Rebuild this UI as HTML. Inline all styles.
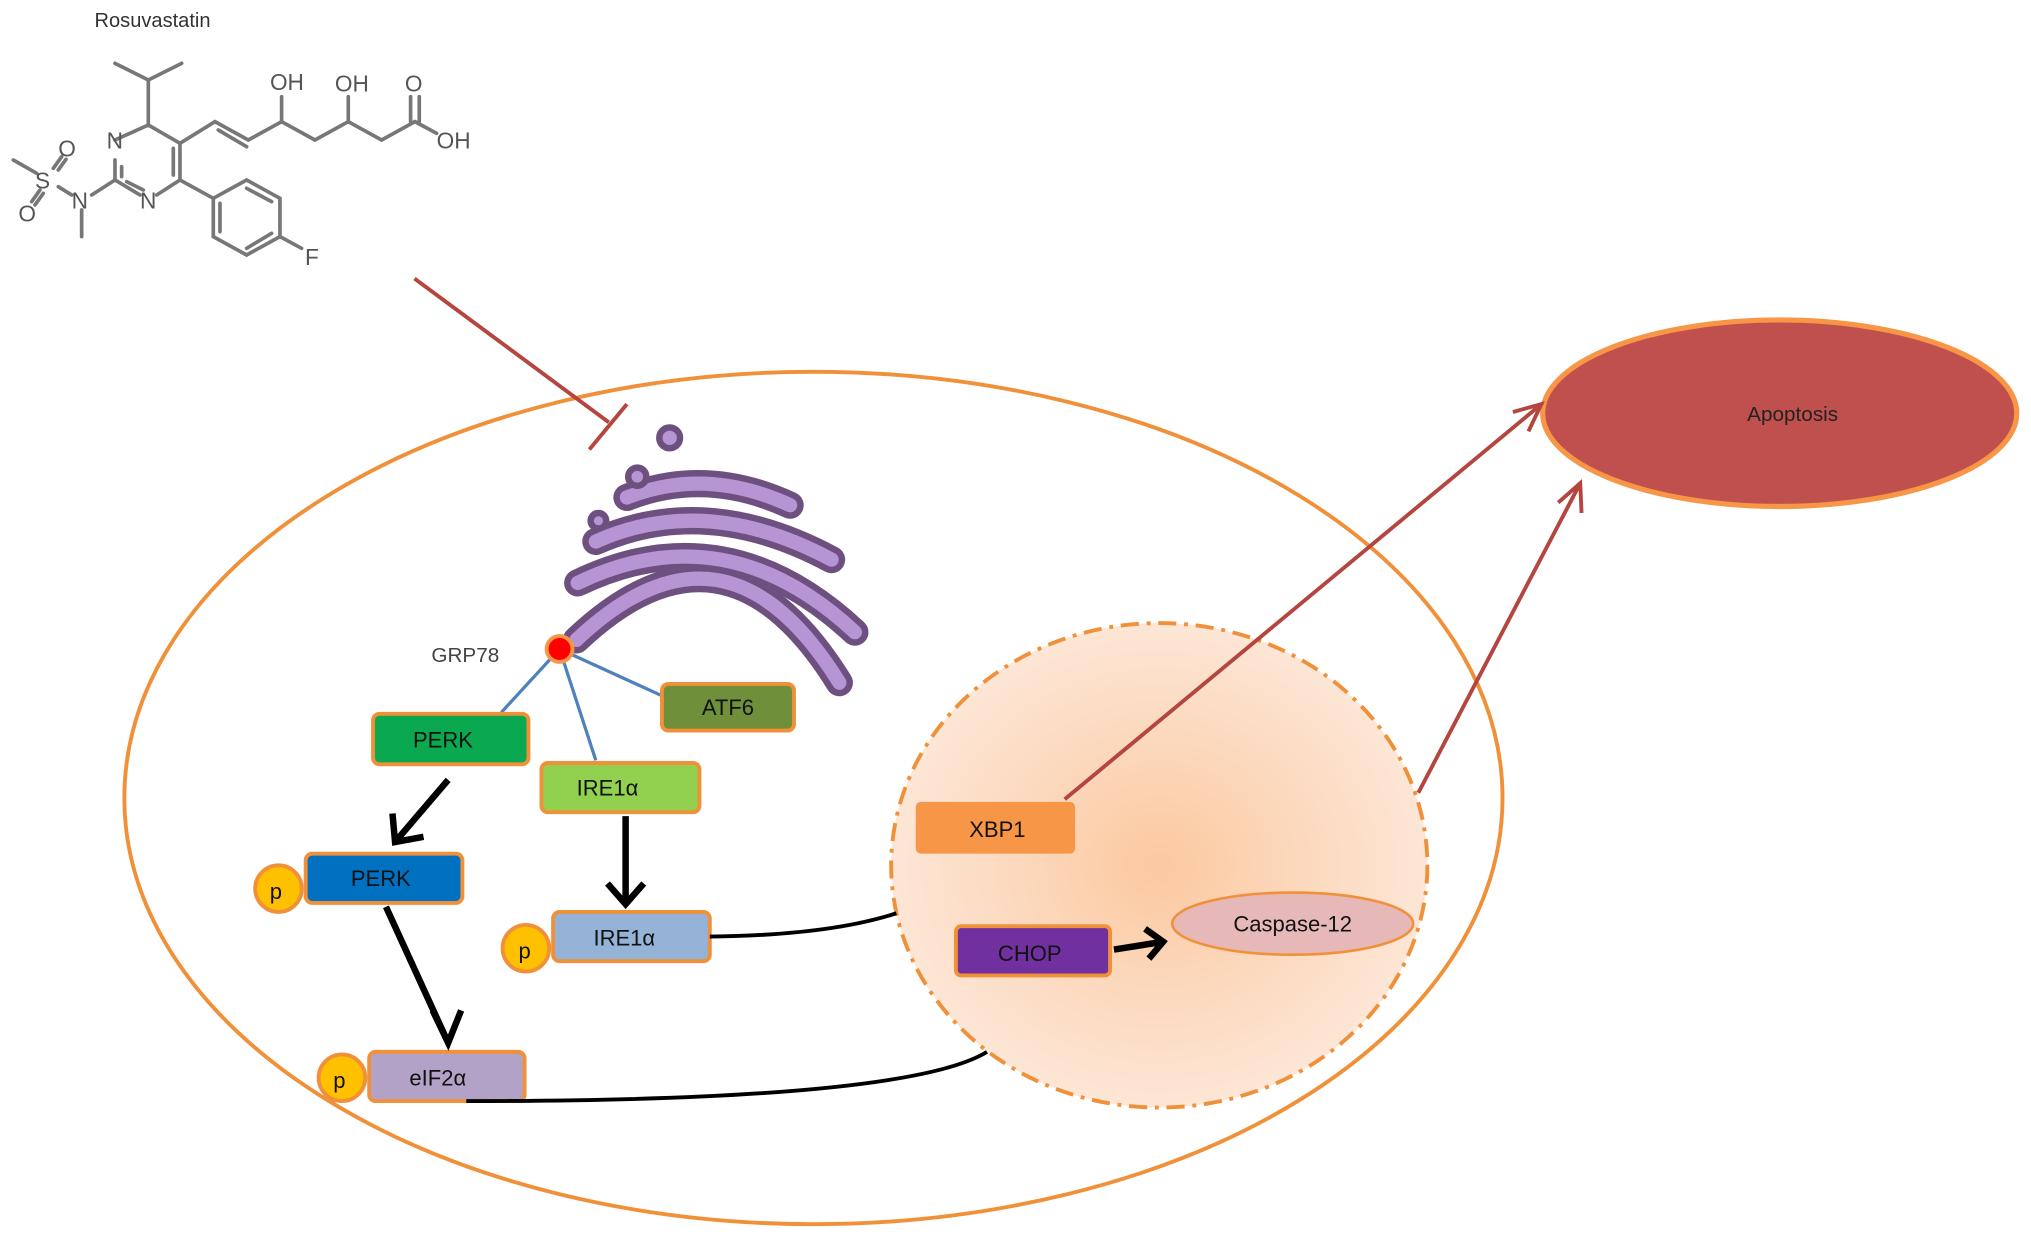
<!DOCTYPE html>
<html><head><meta charset="utf-8"><style>html,body{margin:0;padding:0;background:#fff}svg{display:block}</style></head>
<body>
<svg width="2031" height="1241" viewBox="0 0 1568 958" preserveAspectRatio="none" xmlns="http://www.w3.org/2000/svg" font-family="Liberation Sans, sans-serif">
<defs>
<radialGradient id="ng" cx="0.5" cy="0.5" r="0.5">
<stop offset="0" stop-color="#fbc9a0"/><stop offset="1" stop-color="#fde6d6"/>
</radialGradient>
</defs>
<text x="73" y="21" font-size="15.5" fill="#333">Rosuvastatin</text>
<g transform="scale(0.2573)" stroke="#777" stroke-width="11" fill="none" stroke-linecap="round">
<path d="M445,375 L540,430 L540,540 L470,585 M420,585 L345,540 L345,480 M345,420 L445,375"/>
<path d="M520,445 L520,525 M365,500 L365,530 M430,570 L380,545"/>
<path d="M445,375 L445,240 L345,190 M445,240 L545,190"/>
<path d="M540,430 L645,365 L745,420 L845,365 L945,420 L1045,365 L1145,420 L1245,365 M655,390 L740,440"/>
<path d="M845,365 L845,290 M1045,365 L1045,290 M1232,365 L1232,290 M1258,365 L1258,290 M1245,365 L1310,400"/>
<path d="M540,540 L640,595 M640,595 L740,540 L840,595 L840,710 L740,765 L640,710 L640,595 M660,610 L660,695 M740,565 L815,605 M740,745 L815,700 M840,710 L905,745"/>
<path d="M345,540 L275,585 M245,630 L245,710 M215,585 L175,560 M110,520 L40,480 M160,505 L185,470 M175,510 L198,478 M120,570 L95,605 M130,580 L105,615"/>
</g>
<g transform="scale(0.2573)" fill="#555" font-size="68" stroke="none">
<text x="320" y="445">N</text><text x="420" y="625">N</text><text x="215" y="625">N</text><text x="105" y="565">S</text>
<text x="175" y="470">O</text><text x="55" y="665">O</text><text x="810" y="270">OH</text><text x="1005" y="275">OH</text>
<text x="1215" y="275">O</text><text x="1310" y="445">OH</text><text x="915" y="795">F</text>
</g>
<ellipse cx="628" cy="616" rx="532" ry="329" fill="none" stroke="#f0913a" stroke-width="3"/>
<ellipse cx="895" cy="668" rx="207" ry="187" fill="url(#ng)" stroke="#f0913a" stroke-width="3" stroke-dasharray="14,6,3,6"/>
<ellipse cx="1374" cy="319" rx="183" ry="72" fill="#c0504d" stroke="#f79646" stroke-width="4"/>
<text x="1384" y="325" font-size="16" text-anchor="middle" fill="#222">Apoptosis</text>
<path d="M320,215 L470,326 M455,347 L484,312" stroke="#b5453f" stroke-width="3" fill="none"/>
<g fill="none" stroke-linecap="round">
<g stroke="#6e5080" stroke-width="21">
<path d="M484,384 Q545,360 610,390"/>
<path d="M460,418 Q545,380 642,432"/>
<path d="M446,450 Q560,395 660,488"/>
<path d="M445,494 Q560,385 648,527"/>
</g>
<g stroke="#b795d4" stroke-width="11">
<path d="M484,384 Q545,360 610,390"/>
<path d="M460,418 Q545,380 642,432"/>
<path d="M446,450 Q560,395 660,488"/>
<path d="M445,494 Q560,385 648,527"/>
</g>
</g>
<circle cx="517" cy="338" r="8" fill="#b795d4" stroke="#6e5080" stroke-width="5"/>
<circle cx="492" cy="368" r="7" fill="#b795d4" stroke="#6e5080" stroke-width="5"/>
<circle cx="462" cy="402" r="6" fill="#b795d4" stroke="#6e5080" stroke-width="5"/>
<path d="M432,501 L387,550 M432,501 L460,587 M432,501 L513,538" stroke="#4f81bd" stroke-width="2.5"/>
<circle cx="432" cy="501" r="10" fill="#f00" stroke="#f79646" stroke-width="3"/>
<text x="333" y="511" font-size="16" fill="#444">GRP78</text>
<g stroke="#f0913a" stroke-width="3" font-size="16" text-anchor="middle">
<rect x="288" y="551" width="120" height="39" rx="5" fill="#0aa84f"/>
<rect x="511" y="528" width="102" height="36" rx="5" fill="#6f8f3a"/>
<rect x="418" y="589" width="122" height="38" rx="5" fill="#92d050"/>
<circle cx="215" cy="686" r="18" fill="#ffc000"/>
<rect x="236" y="659" width="121" height="38" rx="5" fill="#0070c0"/>
<circle cx="406" cy="732" r="18" fill="#ffc000"/>
<rect x="427" y="704" width="121" height="38" rx="5" fill="#95b3d7"/>
<circle cx="264" cy="832" r="18" fill="#ffc000"/>
<rect x="285" y="812" width="120" height="38" rx="5" fill="#b3a2c7"/>
<rect x="738" y="715" width="119" height="38" rx="4" fill="#7030a0"/>
<ellipse cx="998" cy="713" rx="93" ry="24" fill="#e6b9b8" stroke-width="2"/>
</g>
<rect x="707" y="619" width="123" height="40" rx="4" fill="#f79646"/>
<g font-size="17" text-anchor="middle" fill="#111">
<text x="342" y="577">PERK</text><text x="562" y="552">ATF6</text><text x="469" y="614">IRE1α</text>
<text x="213" y="694">p</text><text x="294" y="684">PERK</text>
<text x="405" y="740">p</text><text x="482" y="730">IRE1α</text>
<text x="262" y="840">p</text><text x="338" y="838">eIF2α</text>
<text x="770" y="646">XBP1</text><text x="795" y="742">CHOP</text><text x="998" y="719">Caspase-12</text>
</g>
<g stroke="#000" stroke-width="5" fill="none" stroke-linejoin="miter">
<path d="M346,602 L305,650 M303,628 L305,650 L327,646"/>
<path d="M483,630 L483,698 M469,682 L483,698 L497,682"/>
<path d="M298,700 L346,805 M334,780 L346,805 L356,780"/>
<path d="M860,733 L898,727 M884,717 L898,727 L887,740"/>
<path d="M548,723 Q640,722 692,705" stroke-width="3"/>
<path d="M360,850 Q700,850 762,812" stroke-width="3"/>
</g>
<g stroke="#b5453f" stroke-width="3" fill="none">
<path d="M822,617 L1190,312 M1168,318 L1190,312 L1180,333"/>
<path d="M1095,612 L1220,373 M1203,388 L1220,373 L1221,396"/>
</g>
</svg>
</body></html>
